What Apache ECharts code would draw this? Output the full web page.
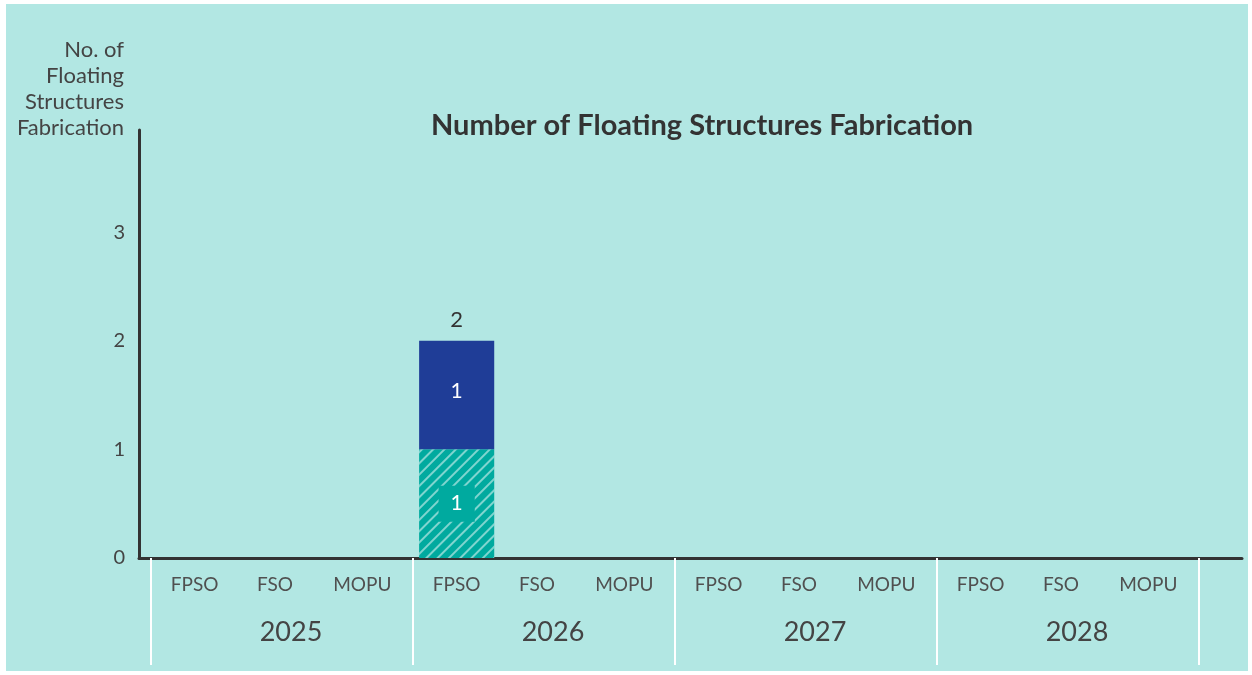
<!DOCTYPE html>
<html>
<head>
<meta charset="utf-8">
<script src="https://cdn.jsdelivr.net/npm/echarts@6/dist/echarts.min.js"></script>
<style>
  html, body { margin: 0; padding: 0; background: #ffffff; }
  #chart { position: absolute; left: 6px; top: 4px; width: 1242px; height: 667px; background: #b2e7e3; }
</style>
</head>
<body>
<div id="chart"></div>
<script>
// data
const years = ['2025', '2026', '2027', '2028'];
const types = ['FPSO', 'FSO', 'MOPU'];
const categories = years.flatMap(y => types.map(t => t));
// lower (hatched teal) and upper (dark blue) segments, one value per year/type
const hatchedValues = [0, 0, 0, 1, 0, 0, 0, 0, 0, 0, 0, 0];
const solidValues   = [0, 0, 0, 1, 0, 0, 0, 0, 0, 0, 0, 0];
const totalValues = hatchedValues.map((v, i) => v + solidValues[i]);
const yTicks = [0, 1, 2, 3];

const FONT = 'Lato';
const TEXT = '#444444';
const yMax = 3.94;

// hide labels of empty bars
const withLabels = arr => arr.map(v => (v === 0 ? { value: v, label: { show: false } } : v));

const chart = echarts.init(document.getElementById('chart'));

const option = {
  backgroundColor: '#b2e7e3',
  textStyle: { fontFamily: FONT },
  title: {
    text: 'Number of Floating Structures Fabrication',
    left: 420,
    top: 102,
    textStyle: { fontFamily: FONT, fontWeight: 'bold', fontSize: 29, color: '#333333' }
  },
  grid: [
    // grid for the bars
    { left: 145, right: 49, top: 126, bottom: 113 },
    // grid that only draws the axis lines
    { left: 133, right: 6, top: 126, bottom: 113 }
  ],
  xAxis: [
    {
      type: 'category',
      gridIndex: 0,
      data: categories,
      axisLine: { show: false },
      axisTick: { show: false },
      axisLabel: {
        interval: 0,
        fontFamily: FONT, fontSize: 19, color: '#505050', margin: 17,
        // FSO / MOPU sit a little left of the category centre
        formatter: v => (v === 'FPSO' ? v : '{l|' + v + '}'),
        rich: { l: { fontFamily: FONT, fontSize: 19, color: '#505050', padding: [0, 14, 0, 0] } }
      }
    },
    {
      type: 'category',
      gridIndex: 0,
      position: 'bottom',
      data: years,
      axisLine: { show: false },
      axisTick: { show: true, length: 107, lineStyle: { color: '#ffffff', width: 2 } },
      axisLabel: { interval: 0, fontFamily: FONT, fontSize: 27, color: TEXT, margin: 61, padding: [0, 0, 0, 18] },
      z: 0
    },
    {
      type: 'value',
      gridIndex: 1,
      min: 0,
      max: 1,
      axisLine: { show: true, onZero: false, lineStyle: { color: '#333333', width: 3 } },
      axisTick: { show: false },
      axisLabel: { show: false },
      splitLine: { show: false }
    }
  ],
  yAxis: [
    {
      type: 'value',
      gridIndex: 0,
      min: 0,
      max: yMax,
      show: false
    },
    {
      type: 'value',
      gridIndex: 1,
      min: 0,
      max: yMax,
      interval: 1,
      name: 'No. of\nFloating\nStructures\nFabrication',
      nameLocation: 'end',
      nameGap: 0,
      nameTextStyle: {
        fontFamily: FONT, fontSize: 22, color: TEXT, align: 'right',
        verticalAlign: 'bottom', lineHeight: 26, padding: [0, 15, -11, 0]
      },
      axisLine: { show: true, lineStyle: { color: '#333333', width: 3 } },
      axisTick: { show: false },
      splitLine: { show: false },
      axisLabel: {
        fontFamily: FONT, fontSize: 20, color: TEXT, margin: 14,
        showMaxLabel: false,
        formatter: v => (yTicks.includes(v) ? String(v) : '')
      }
    }
  ],
  series: [
    {
      name: 'Hatched',
      type: 'bar',
      xAxisIndex: 0,
      yAxisIndex: 0,
      stack: 'total',
      barWidth: '86%',
      data: withLabels(hatchedValues),
      itemStyle: {
        color: '#00aa9f',
        decal: {
          symbol: 'rect',
          dashArrayX: [[1, 0]],
          dashArrayY: [2, 6],
          rotation: -Math.PI / 4,
          color: 'rgba(255,255,255,0.5)'
        }
      },
      label: {
        show: true,
        position: 'inside',
        color: '#ffffff',
        fontFamily: FONT,
        fontSize: 21,
        backgroundColor: '#00aa9f',
        padding: [8, 12, 7, 12]
      }
    },
    {
      name: 'Solid',
      type: 'bar',
      xAxisIndex: 0,
      yAxisIndex: 0,
      stack: 'total',
      barWidth: '86%',
      data: withLabels(solidValues),
      itemStyle: { color: '#1f3d97' },
      label: {
        show: true,
        position: 'inside',
        offset: [0, -4],
        color: '#ffffff',
        fontFamily: FONT,
        fontSize: 21
      }
    },
    {
      name: 'Total',
      type: 'bar',
      xAxisIndex: 0,
      yAxisIndex: 0,
      barWidth: '86%',
      barGap: '-100%',
      z: 1,
      data: withLabels(totalValues),
      itemStyle: { color: 'rgba(0,0,0,0)' },
      label: {
        show: true,
        position: 'top',
        distance: 10,
        color: '#333333',
        fontFamily: FONT,
        fontSize: 22
      }
    }
  ]
};

chart.setOption(option);
</script>
</body>
</html>
